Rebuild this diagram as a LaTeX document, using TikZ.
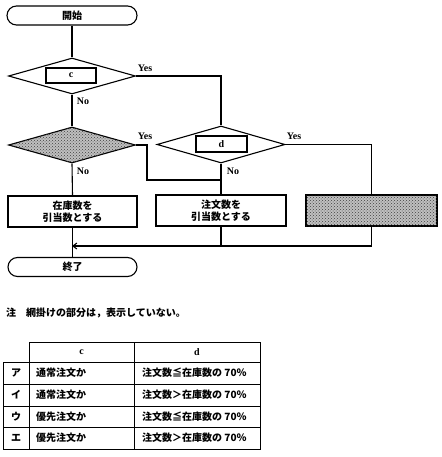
\documentclass[tikz,border=0pt]{standalone}
\usepackage{fontspec}
\setmainfont{Liberation Serif}
\newfontfamily\jp{Noto Sans CJK JP}
\usetikzlibrary{shapes.geometric,arrows.meta,patterns}
\tikzset{
  ln/.style={line width=1.1pt},
  term/.style={draw,ln,rectangle,rounded corners=9.5pt,minimum height=19pt,inner sep=0pt,font=\jp\bfseries\fontsize{10}{12}\selectfont},
  proc/.style={draw,ln,rectangle,minimum height=31pt,inner sep=0pt,align=center,font=\jp\bfseries\fontsize{10}{12.5}\selectfont},
  dec/.style={draw,ln,diamond,inner sep=0pt,minimum width=127pt,minimum height=36pt},
  ibox/.style={draw,ln,rectangle,inner sep=0pt,minimum width=50pt,minimum height=15pt,font=\bfseries\fontsize{10}{12}\selectfont},
  yn/.style={font=\bfseries\fontsize{10}{12}\selectfont,inner sep=0pt},
  shade/.style={fill=black!25,postaction={pattern=crosshatch dots,pattern color=black!75}},
  jt/.style={font=\jp\bfseries\fontsize{10}{12}\selectfont,inner sep=0pt},
  tl/.style={line width=1pt}
}
\begin{document}
\begin{tikzpicture}[x=1pt,y=-1pt]
\useasboundingbox (0,0) rectangle (441,457);
% flowchart nodes
\node[term,minimum width=130pt] (start) at (72,15.5) {開始};
\node[dec] (dc) at (72,76) {};
\node[ibox] (cbox) at (71,75.5) {c};
\node[dec,shade] (dg) at (72,145) {};
\node[dec,minimum width=128pt,minimum height=37pt] (dd) at (221,144.5) {};
\node[ibox,minimum width=51pt,minimum height=16pt] (dbox) at (221.5,144) {d};
\node[proc,minimum width=129pt] (b1) at (72.5,211.5) {在庫数を\\引当数とする};
\node[proc,minimum width=130pt] (b2) at (221,210.5) {注文数を\\引当数とする};
\node[proc,shade,minimum width=131pt] (b3) at (371.5,210.5) {};
\node[term,minimum width=129pt] (end) at (72.5,267) {終了};
% labels
\node[yn] (y1) at (145,68) {Yes};
\node[yn] (n1) at (83,101) {No};
\node[yn] (y2) at (145,136) {Yes};
\node[yn] (n2) at (83,171) {No};
\node[yn] (y3) at (294,136) {Yes};
\node[yn] (n3) at (233,171) {No};
% coordinates
\coordinate (k1) at (147,180);
\coordinate (j1) at (221,180);
\coordinate (m1) at (72,246);
% connectors
\draw[ln] (start.south) -- (dc.north);
\draw[ln] (dc.east) -| (dd.north);
\draw[ln] (dc.south) -- (dg.north);
\draw[ln] (dg.east) -| (k1) -- (j1);
\draw[ln] (dd.south) -- (b2.north);
\draw[ln] (dd.east) -| (b3.north);
\draw[ln] (dg.south) -- (b1.north);
\draw[ln] (b1.south) -- (end.north);
\draw[ln,-{Straight Barb[length=4pt,width=6pt]}] (b3.south) |- (m1);
\draw[ln] (b2.south) -- (b2.south |- m1);
% note
\node[jt,anchor=west] (note) at (6,313) {注\hspace{1em}網掛けの部分は，表示していない。};
% table
\draw[tl] (29,342) -- (260,342);
\draw[tl] (3,362) rectangle (260,449);
\draw[tl] (3,384) -- (260,384);
\draw[tl] (3,406) -- (260,406);
\draw[tl] (3,427) -- (260,427);
\draw[tl] (29,342) -- (29,449);
\draw[tl] (134,342) -- (134,449);
\draw[tl] (260,342) -- (260,449);
\node[yn] (hc) at (81.5,352) {c};
\node[yn] (hd) at (197,352) {d};
\node[jt] (ra) at (16,373) {ア};
\node[jt] (ri) at (16,395) {イ};
\node[jt] (ru) at (16,416.5) {ウ};
\node[jt] (re) at (16,438) {エ};
\node[jt,anchor=west] (ca) at (36,373) {通常注文か};
\node[jt,anchor=west] (ci) at (36,395) {通常注文か};
\node[jt,anchor=west] (cu) at (36,416.5) {優先注文か};
\node[jt,anchor=west] (ce) at (36,438) {優先注文か};
\node[jt,anchor=west] (da) at (142,373) {注文数≦在庫数の 70％};
\node[jt,anchor=west] (di) at (142,395) {注文数＞在庫数の 70％};
\node[jt,anchor=west] (du) at (142,416.5) {注文数≦在庫数の 70％};
\node[jt,anchor=west] (de) at (142,438) {注文数＞在庫数の 70％};
\end{tikzpicture}
\end{document}
